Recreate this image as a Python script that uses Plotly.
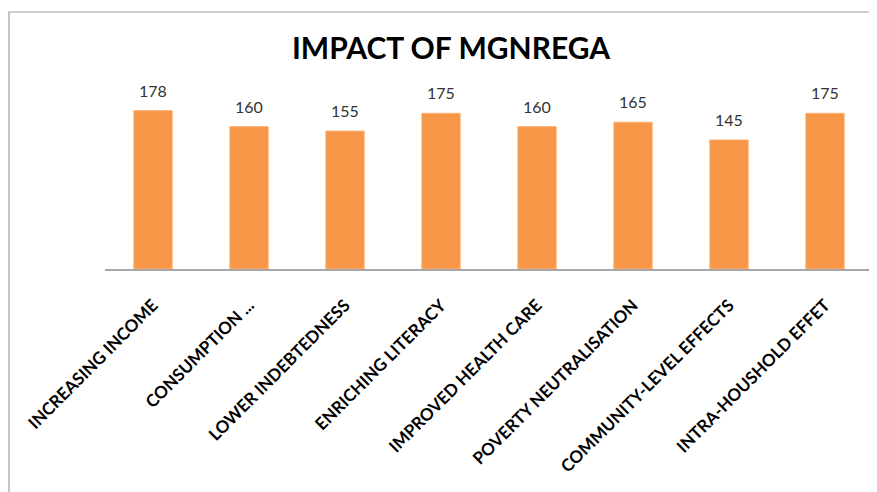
import plotly.graph_objects as go

categories = ["INCREASING INCOME", "CONSUMPTION ...", "LOWER INDEBTEDNESS", "ENRICHING LITERACY",
              "IMPROVED HEALTH CARE", "POVERTY NEUTRALISATION", "COMMUNITY-LEVEL EFFECTS",
              "INTRA-HOUSHOLD EFFET"]
values = [178, 160, 155, 175, 160, 165, 145, 175]
title_text = "IMPACT OF MGNREGA"

OFF = 8  # page body margin offset
W, H = 877 - OFF, 492 - OFF
ml, mt = 105 - OFF, 91 - OFF
pw, ph = 768, 178
mr = W - ml - pw
mb = H - mt - ph

fig = go.Figure(go.Bar(
    x=categories, y=values,
    marker=dict(color="#F79646", line=dict(color="#FBB57F", width=1)),
    cliponaxis=False,
))

for c, v in zip(categories, values):
    fig.add_annotation(x=c, y=v, text=str(v), showarrow=False, yanchor="bottom",
                       yshift=9, font=dict(family="Lato", size=16, color="#333333"))

fig.update_layout(
    width=W, height=H,
    margin=dict(l=ml, r=mr, t=mt, b=mb),
    paper_bgcolor="white", plot_bgcolor="white",
    bargap=0.6,
    showlegend=False,
    title=dict(text="<b>" + title_text + "</b>", x=(451 - OFF) / W, xref="container", xanchor="center",
               y=1 - (48 - OFF) / H, yref="container", yanchor="middle",
               font=dict(family="Lato", size=30, color="#000000")),
    xaxis=dict(showline=True, linecolor="#A6A6A6", linewidth=1.5, ticks="",
               tickangle=-45, ticklabelstandoff=18,
               tickfont=dict(family="Lato", size=17, color="#000000", weight="bold")),
    yaxis=dict(range=[0, 200], visible=False, showgrid=False, zeroline=False),
)

# outer chart border (left and top visible)
x0 = (9 - 105) / pw
x1 = (W + 5 - ml) / pw
y1 = (269 - 12) / ph
y0 = (269 - 500) / ph
fig.add_shape(type="rect", xref="paper", yref="paper", x0=x0, x1=x1, y0=y0, y1=y1,
              line=dict(color="#A0A0A0", width=1.2), fillcolor="rgba(0,0,0,0)", layer="below")

fig.write_html("out.html")
